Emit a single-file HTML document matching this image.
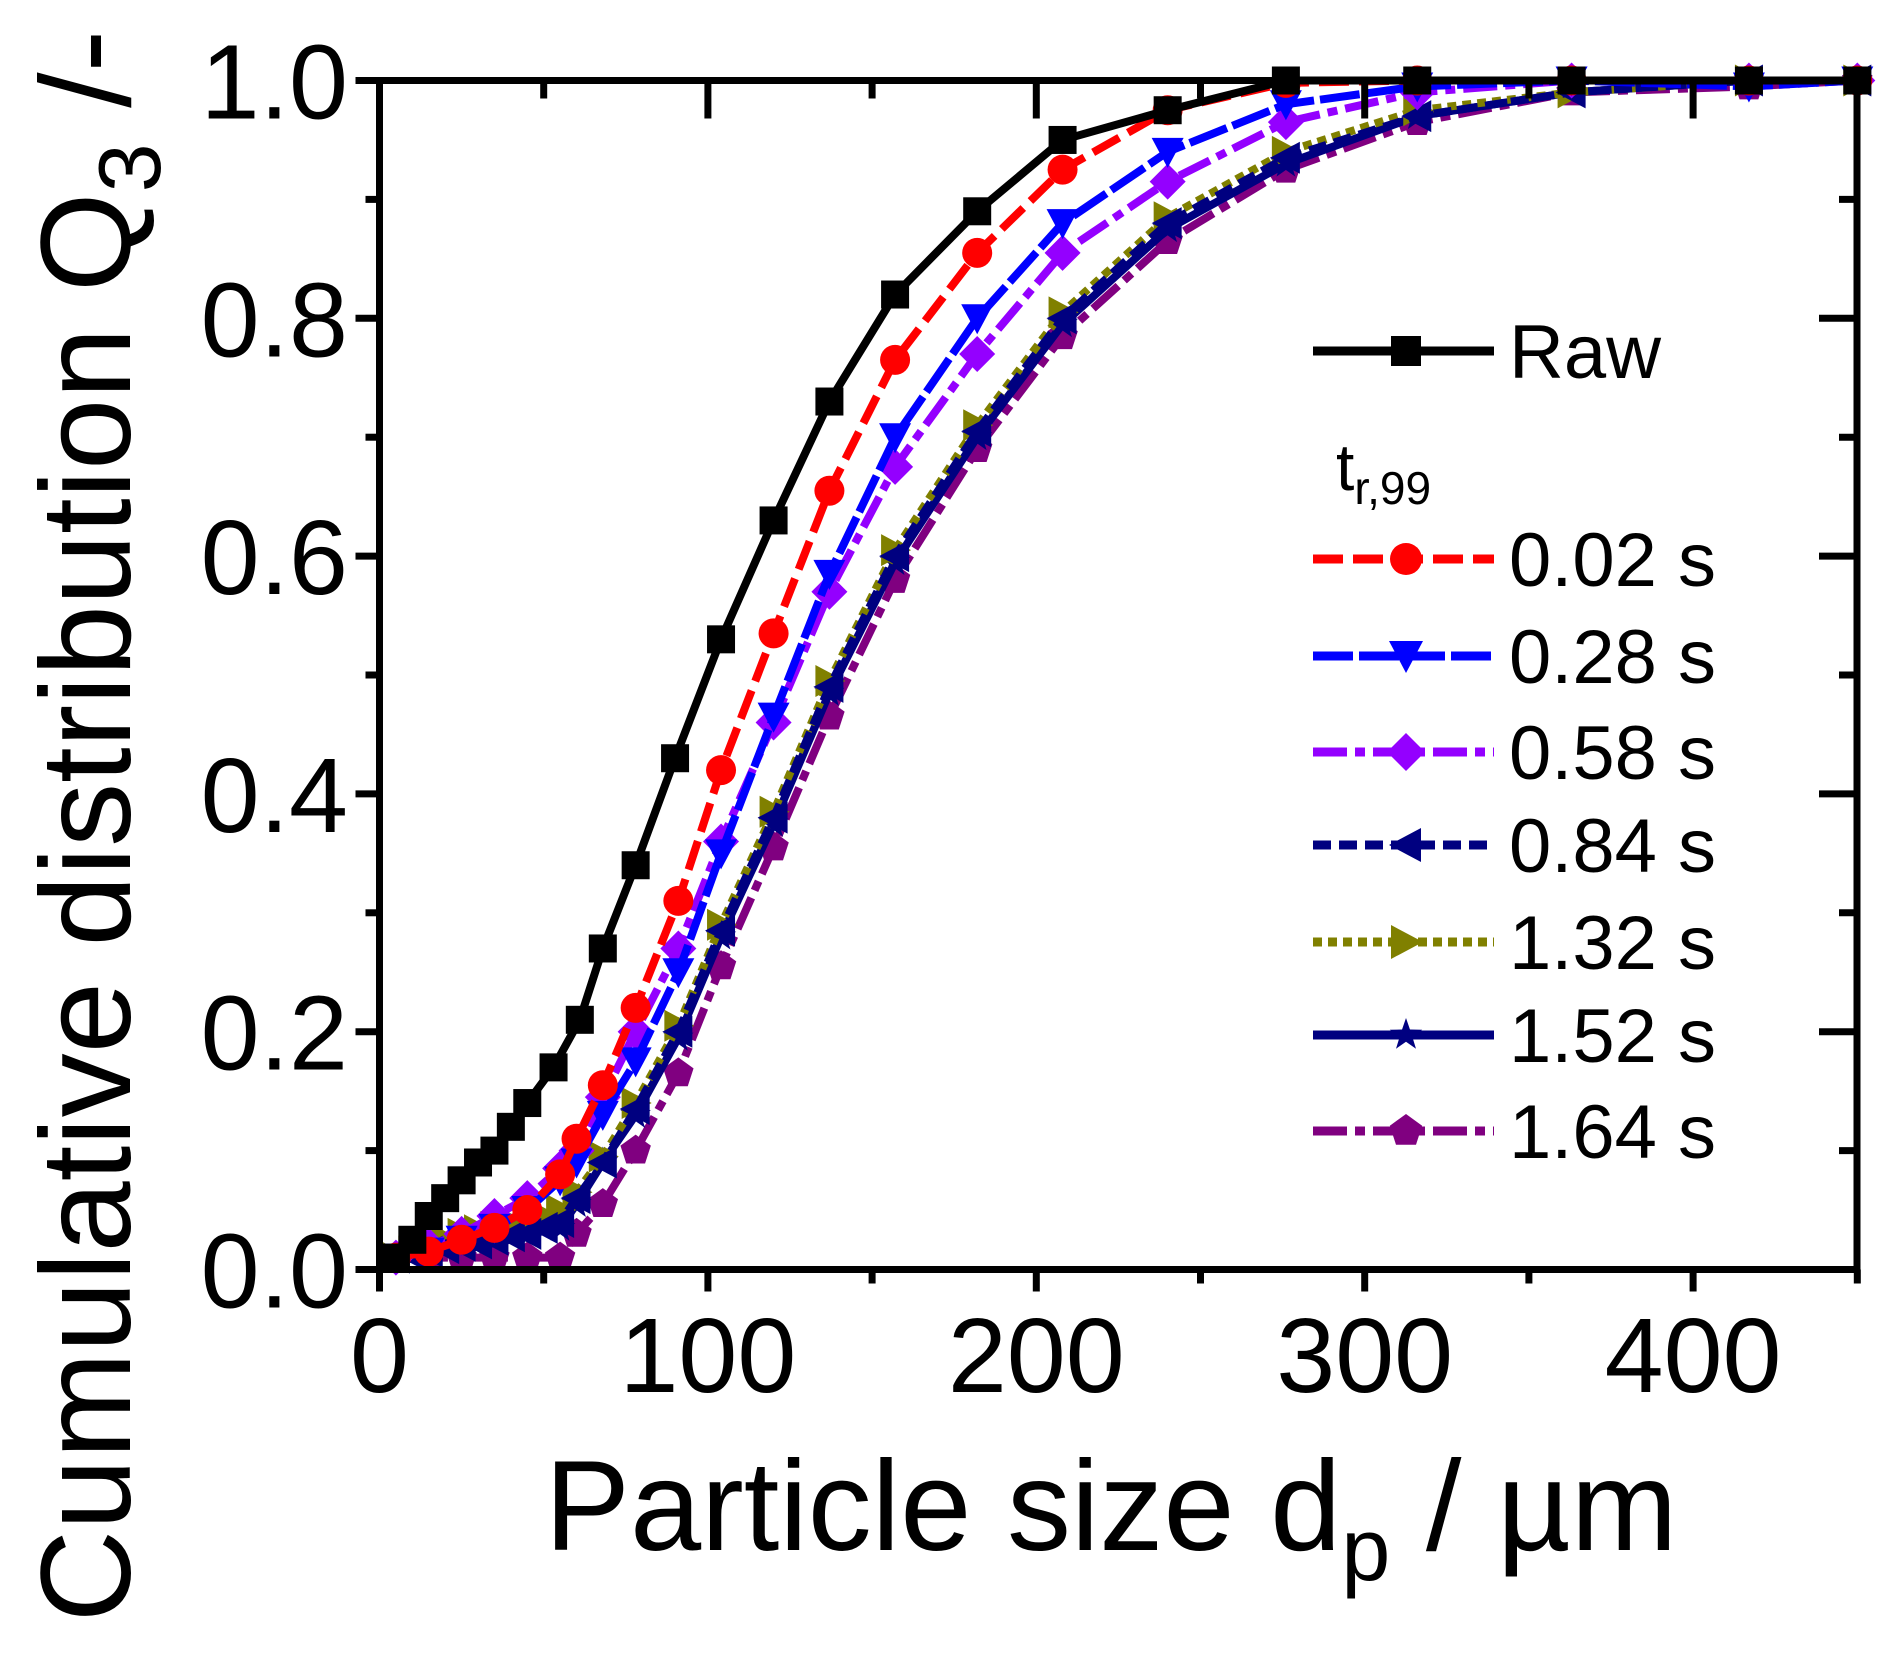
<!DOCTYPE html>
<html><head><meta charset="utf-8">
<style>html,body{margin:0;padding:0;background:#fff;}svg{display:block;}</style>
</head><body>
<svg id="s" xmlns="http://www.w3.org/2000/svg" width="1877" height="1659" viewBox="0 0 1877 1659" font-family="Liberation Sans, Arial, sans-serif">
<rect width="1877" height="1659" fill="#fff"/>
<g id="data"></g>
<g id="axes" stroke="#000" stroke-width="7" fill="none"></g>
<g id="labels" font-size="106" fill="#000"></g>
<text x="1111" y="1550" font-size="128" text-anchor="middle">Particle size d<tspan font-size="88" dy="30">p</tspan><tspan dy="-30"> / µm</tspan></text>
<text transform="translate(130,826) rotate(-90)" font-size="128" text-anchor="middle">Cumulative distribution Q<tspan font-size="88" dy="30">3</tspan><tspan dy="-30"> /-</tspan></text>
<g id="legend"></g>
</svg>
<script>
const NS="http://www.w3.org/2000/svg";
const X=d=>379.5+d*3.284, Y=v=>1269.5-v*1189;
function el(p,t,a,txt){const e=document.createElementNS(NS,t);for(const k in a)e.setAttribute(k,a[k]);if(txt!==undefined)e.textContent=txt;p.appendChild(e);return e;}
const low=[[5,0.01],[10,0.012],[15,0.015],[20,0.018],[25,0.02],[30,0.022],[35,0.025],[40,0.028],[45,0.03],[50,0.035]];
const series=[
{n:"Raw",c:"#000",da:"",m:"sq",pts:[[5,0.01],[10,0.025],[15,0.045],[20,0.06],[25,0.075],[30,0.09],[35,0.10],[40,0.12],[45,0.14],[53,0.17],[61,0.21],[68,0.27],[78,0.34],[90,0.43],[104,0.53],[120,0.63],[137,0.73],[157,0.82],[182,0.89],[208,0.95],[240,0.975],[276,1],[316,1],[363,1],[417,1],[450,1]]},
{n:"0.02 s",c:"#ff0000",da:"30 10",m:"ci",pts:[[5,0.01],[15,0.015],[25,0.025],[35,0.035],[45,0.05],[55,0.08],[60,0.11],[68,0.155],[78,0.22],[91,0.31],[104,0.42],[120,0.535],[137,0.655],[157,0.765],[182,0.855],[208,0.925],[240,0.975],[276,0.998],[316,1],[363,1],[417,1],[450,1]]},
{n:"0.28 s",c:"#0000ff",da:"40 6",m:"dt",pts:[[5,0.01],[15,0.015],[25,0.025],[35,0.035],[45,0.05],[55,0.075],[60,0.09],[68,0.13],[78,0.175],[91,0.25],[104,0.35],[120,0.465],[137,0.585],[157,0.70],[182,0.80],[208,0.88],[240,0.94],[276,0.98],[316,0.995],[363,1],[417,0.995],[450,1]]},
{n:"0.58 s",c:"#9400ff",da:"34 8 10 8",m:"di",pts:[[5,0.01],[15,0.02],[25,0.03],[35,0.045],[45,0.06],[55,0.085],[60,0.10],[68,0.145],[78,0.20],[91,0.27],[104,0.36],[120,0.46],[137,0.57],[157,0.675],[182,0.77],[208,0.855],[240,0.915],[276,0.965],[316,0.99],[363,1],[417,1],[450,1]]},
{n:"0.84 s",c:"#000080",da:"18 8",m:"lt",pts:low.concat([[55,0.04],[60,0.06],[68,0.09],[78,0.135],[91,0.20],[104,0.285],[120,0.38],[137,0.49],[157,0.60],[182,0.705],[208,0.80],[240,0.88],[276,0.935],[316,0.97],[363,0.99],[417,1],[450,1]])},
{n:"1.32 s",c:"#808000",da:"9 6",m:"rt",pts:[[5,0.01],[10,0.015],[15,0.02],[20,0.025],[25,0.03],[30,0.033],[35,0.036],[40,0.04],[45,0.042],[50,0.045],[55,0.05],[60,0.065],[68,0.095],[78,0.14],[91,0.205],[104,0.29],[120,0.385],[137,0.495],[157,0.605],[182,0.71],[208,0.805],[240,0.885],[276,0.94],[316,0.975],[363,0.99],[417,1],[450,1]]},
{n:"1.52 s",c:"#000080",da:"",m:"st",pts:low.concat([[55,0.035],[60,0.055],[68,0.09],[78,0.13],[91,0.195],[104,0.28],[120,0.375],[137,0.485],[157,0.595],[182,0.70],[208,0.795],[240,0.875],[276,0.93],[316,0.97],[363,0.99],[417,1],[450,1]])},
{n:"1.64 s",c:"#800080",da:"34 8 10 8",m:"pe",pts:[[5,0.01],[15,0.01],[25,0.01],[35,0.01],[45,0.01],[55,0.01],[60,0.03],[68,0.055],[78,0.10],[91,0.165],[104,0.255],[120,0.355],[137,0.465],[157,0.58],[182,0.69],[208,0.785],[240,0.865],[276,0.925],[316,0.965],[363,0.99],[417,0.995],[450,1]]}
];
function marker(g,t,x,y,c,r){r=r||13;
 if(t=="sq")el(g,"rect",{x:x-r,y:y-r,width:2*r,height:2*r,fill:c});
 else if(t=="ci")el(g,"circle",{cx:x,cy:y,r:r+1,fill:c});
 else{let p;
  if(t=="dt")p=[[x-r-2,y-r],[x+r+2,y-r],[x,y+r+2]];
  if(t=="di")p=[[x,y-r-4],[x+r+4,y],[x,y+r+4],[x-r-4,y]];
  if(t=="lt")p=[[x+r,y-r-2],[x+r,y+r+2],[x-r-2,y]];
  if(t=="rt")p=[[x-r,y-r-2],[x-r,y+r+2],[x+r+2,y]];
  if(t=="st"){p=[];for(let i=0;i<10;i++){const a=-Math.PI/2+i*Math.PI/5,rr=i%2?r*0.45:r+2;p.push([x+rr*Math.cos(a),y+rr*Math.sin(a)]);}}
  if(t=="pe"){p=[];for(let i=0;i<5;i++){const a=-Math.PI/2+i*2*Math.PI/5;p.push([x+(r+2)*Math.cos(a),y+(r+2)*Math.sin(a)]);}}
  el(g,"polygon",{points:p.map(q=>q.join(",")).join(" "),fill:c});}
}
const D=document.getElementById("data");
for(let i=series.length-1;i>=0;i--){const s=series[i];
 el(D,"polyline",{points:s.pts.map(p=>X(p[0])+","+Y(p[1])).join(" "),fill:"none",stroke:s.c,"stroke-width":8,"stroke-dasharray":s.da,"stroke-linejoin":"round"});
 s.pts.forEach(p=>marker(D,s.m,X(p[0]),Y(p[1]),s.c,14));
}
const A=document.getElementById("axes");
el(A,"rect",{x:379.5,y:80.5,width:1477.5,height:1189});
for(let d=0;d<=450;d+=50){const x=X(d),maj=d%100==0;
 el(A,"line",{x1:x,y1:1269.5,x2:x,y2:1269.5+(maj?22:14)});
 if(d>0&&d<450)el(A,"line",{x1:x,y1:80.5,x2:x,y2:80.5+(maj?38:18)});}
for(let k=0;k<=10;k++){const y=Y(k/10),maj=k%2==0;
 el(A,"line",{x1:379.5,y1:y,x2:379.5-(maj?24:14),y2:y});
 if(k>0&&k<10)el(A,"line",{x1:1857,y1:y,x2:1857-(maj?38:18),y2:y});}
const L=document.getElementById("labels");
for(let k=0;k<=5;k++)el(L,"text",{x:348,y:Y(k*0.2)+38,"text-anchor":"end"},(k*0.2).toFixed(1));
for(let d=0;d<=400;d+=100)el(L,"text",{x:X(d),y:1392,"text-anchor":"middle"},d);
const G=document.getElementById("legend");
const rows=[351,559,656,752,845,942,1035,1131];
series.forEach((s,i)=>{const y=rows[i];
 el(G,"line",{x1:1313,y1:y,x2:1494,y2:y,stroke:s.c,"stroke-width":9,"stroke-dasharray":s.da});
 marker(G,s.m,1406,y,s.c,15);
 el(G,"text",{x:1509,y:y+27,"font-size":76},s.n);});
const t=el(G,"text",{x:1336,y:490,"font-size":66},"t");
el(t,"tspan",{"font-size":46,dy:14},"r,99");
</script>
</body></html>
